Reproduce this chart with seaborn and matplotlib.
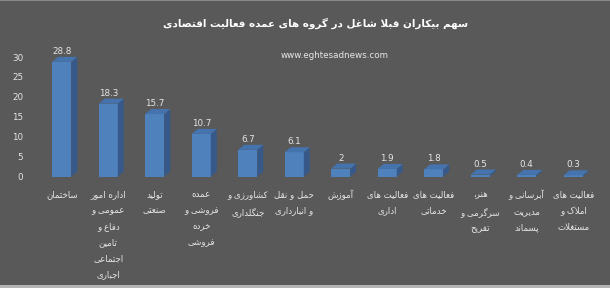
import matplotlib
matplotlib.use("Agg")
import matplotlib.pyplot as plt
import seaborn as sns
import pandas as pd
from matplotlib.patches import Polygon, Rectangle
from matplotlib.transforms import IdentityTransform, ScaledTranslation

# ---------------- data ----------------
title = "سهم بیکاران قبلا شاغل در گروه های عمده فعالیت اقتصادی"
source = "www.eghtesadnews.com"
categories = [
    "ساختمان",
    "اداره امور\nعمومی و\nدفاع و\nتامین\nاجتماعی\nاجباری",
    "تولید\nصنعتی",
    "عمده\nفروشی و\nخرده\nفروشی",
    "کشاورزی و\nجنگلداری",
    "حمل و نقل\nو انبارداری",
    "آموزش",
    "فعالیت های\nاداری",
    "فعالیت های\nخدماتی",
    "هنر،\nسرگرمی و\nتفریح",
    "آبرسانی و\nمدیریت\nپسماند",
    "فعالیت های\nاملاک و\nمستغلات",
]
values = [28.8, 18.3, 15.7, 10.7, 6.7, 6.1, 2, 1.9, 1.8, 0.5, 0.4, 0.3]
yticks = [0, 5, 10, 15, 20, 25, 30]

# ---------------- Arabic-script shaping (no raqm in matplotlib) ----------------
FORMS = {
    '\u0627': ('\uFE8D', '\uFE8E', None, None),
    '\u0622': ('\uFE81', '\uFE82', None, None),
    '\u0628': ('\uFE8F', '\uFE90', '\uFE91', '\uFE92'),
    '\u067E': ('\uFB56', '\uFB57', '\uFB58', '\uFB59'),
    '\u062A': ('\uFE95', '\uFE96', '\uFE97', '\uFE98'),
    '\u062B': ('\uFE99', '\uFE9A', '\uFE9B', '\uFE9C'),
    '\u062C': ('\uFE9D', '\uFE9E', '\uFE9F', '\uFEA0'),
    '\u0686': ('\uFB7A', '\uFB7B', '\uFB7C', '\uFB7D'),
    '\u062D': ('\uFEA1', '\uFEA2', '\uFEA3', '\uFEA4'),
    '\u062E': ('\uFEA5', '\uFEA6', '\uFEA7', '\uFEA8'),
    '\u062F': ('\uFEA9', '\uFEAA', None, None),
    '\u0630': ('\uFEAB', '\uFEAC', None, None),
    '\u0631': ('\uFEAD', '\uFEAE', None, None),
    '\u0632': ('\uFEAF', '\uFEB0', None, None),
    '\u0698': ('\uFB8A', '\uFB8B', None, None),
    '\u0633': ('\uFEB1', '\uFEB2', '\uFEB3', '\uFEB4'),
    '\u0634': ('\uFEB5', '\uFEB6', '\uFEB7', '\uFEB8'),
    '\u0635': ('\uFEB9', '\uFEBA', '\uFEBB', '\uFEBC'),
    '\u0636': ('\uFEBD', '\uFEBE', '\uFEBF', '\uFEC0'),
    '\u0637': ('\uFEC1', '\uFEC2', '\uFEC3', '\uFEC4'),
    '\u0638': ('\uFEC5', '\uFEC6', '\uFEC7', '\uFEC8'),
    '\u0639': ('\uFEC9', '\uFECA', '\uFECB', '\uFECC'),
    '\u063A': ('\uFECD', '\uFECE', '\uFECF', '\uFED0'),
    '\u0641': ('\uFED1', '\uFED2', '\uFED3', '\uFED4'),
    '\u0642': ('\uFED5', '\uFED6', '\uFED7', '\uFED8'),
    '\u06A9': ('\uFB8E', '\uFB8F', '\uFB90', '\uFB91'),
    '\u06AF': ('\uFB92', '\uFB93', '\uFB94', '\uFB95'),
    '\u0644': ('\uFEDD', '\uFEDE', '\uFEDF', '\uFEE0'),
    '\u0645': ('\uFEE1', '\uFEE2', '\uFEE3', '\uFEE4'),
    '\u0646': ('\uFEE5', '\uFEE6', '\uFEE7', '\uFEE8'),
    '\u0647': ('\uFEE9', '\uFEEA', '\uFEEB', '\uFEEC'),
    '\u0648': ('\uFEED', '\uFEEE', None, None),
    '\u06CC': ('\uFBFC', '\uFBFD', '\uFBFE', '\uFBFF'),
    'LA': ('\uFEFB', '\uFEFC', None, None),
    'LAA': ('\uFEF5', '\uFEF6', None, None),
}


def shape(text):
    lines = []
    for line in text.split('\n'):
        chars = []
        i = 0
        while i < len(line):
            c = line[i]
            if c == '\u0644' and i + 1 < len(line) and line[i + 1] in ('\u0627', '\u0622'):
                chars.append('LA' if line[i + 1] == '\u0627' else 'LAA')
                i += 2
            else:
                chars.append(c)
                i += 1
        res = []
        for j, c in enumerate(chars):
            if c not in FORMS:
                res.append(c)
                continue
            iso, fin, ini, med = FORMS[c]
            prev = chars[j - 1] if j > 0 else None
            nxt = chars[j + 1] if j + 1 < len(chars) else None
            jp = prev in FORMS and FORMS[prev][2] is not None
            jn = ini is not None and nxt in FORMS
            if jp and jn:
                res.append(med)
            elif jp:
                res.append(fin)
            elif jn:
                res.append(ini)
            else:
                res.append(iso)
        lines.append(''.join(reversed(res)))
    return '\n'.join(lines)


# ---------------- figure ----------------
BG = '#595959'
TXT = '#e6e6e6'
FRONT = '#4F81BD'
SIDE = '#36598a'
TOP = '#4573ad'

sns.set_theme(style='white')
plt.rcParams['font.family'] = ['DejaVu Sans']

W, H = 610, 288
fig = plt.figure(figsize=(W / 100, H / 100), dpi=100, facecolor=BG)
ax_left, ax_bottom = 38.5, 111.5
ax_w, ax_h = 558, 35 * 3.98
ax = fig.add_axes([ax_left / W, ax_bottom / H, ax_w / W, ax_h / H])
ax.set_facecolor(BG)

df = pd.DataFrame({'cat': categories, 'val': values})
sns.barplot(data=df, x='cat', y='val', color=FRONT, saturation=1,
            width=0.41, ax=ax, linewidth=0)
ax.set_xlim(-0.5, len(categories) - 0.5)
ax.set_ylim(0, 35)
for s in ax.spines.values():
    s.set_visible(False)
ax.set_xlabel('')
ax.set_ylabel('')

# pseudo-3D faces
dx, dy = 6, 5
for p in list(ax.patches):
    x0, w, h = p.get_x(), p.get_width(), p.get_height()
    X0, Y0 = ax.transData.transform((x0, 0))
    X1, Y1 = ax.transData.transform((x0 + w, h))
    side = Polygon([(X1, Y0), (X1, Y1), (X1 + dx, Y1 + dy), (X1 + dx, Y0 + dy)],
                   closed=True, facecolor=SIDE, edgecolor='none',
                   transform=IdentityTransform(), clip_on=False, zorder=1.5)
    top = Polygon([(X0, Y1), (X1, Y1), (X1 + dx, Y1 + dy), (X0 + dx, Y1 + dy)],
                  closed=True, facecolor=TOP, edgecolor='none',
                  transform=IdentityTransform(), clip_on=False, zorder=1.5)
    ax.add_artist(side)
    ax.add_artist(top)
    ax.annotate(f'{h:g}', (x0 + w / 2, h), xytext=(0, 7.5), textcoords='offset points',
                ha='center', va='center', fontsize=6.3, color=TXT, annotation_clip=False)

ax.set_xticks(range(len(categories)))
ax.set_xticklabels([shape(c) for c in categories], fontsize=6.2, color=TXT,
                   linespacing=2.02, va='top', ha='center', multialignment='center')
shift = ScaledTranslation(-2 / 72, 0, fig.dpi_scale_trans)
for lab in ax.get_xticklabels():
    lab.set_transform(lab.get_transform() + shift)
ax.set_yticks(yticks)
ax.set_yticklabels([str(t) for t in yticks], fontsize=6.3, color=TXT)
ax.tick_params(axis='x', length=0, pad=9.5)
ax.tick_params(axis='y', length=0, pad=11)

fig.text(316 / W, 1 - 23 / H, shape(title), ha='center', va='center',
         fontsize=7.5, fontweight='bold', color='white')
fig.text(335 / W, 1 - 56 / H, source, ha='center', va='center',
         fontsize=6.3, color=TXT)

# thin light frame strips
fig.add_artist(Rectangle((0, 0), 1, 3 / H, transform=fig.transFigure,
                         facecolor='#b4b4b4', edgecolor='none'))
fig.add_artist(Rectangle((0, 1 - 1 / H), 1, 1 / H, transform=fig.transFigure,
                         facecolor='#8a8a8a', edgecolor='none'))

fig.savefig('out.png', dpi=100, facecolor=BG)
